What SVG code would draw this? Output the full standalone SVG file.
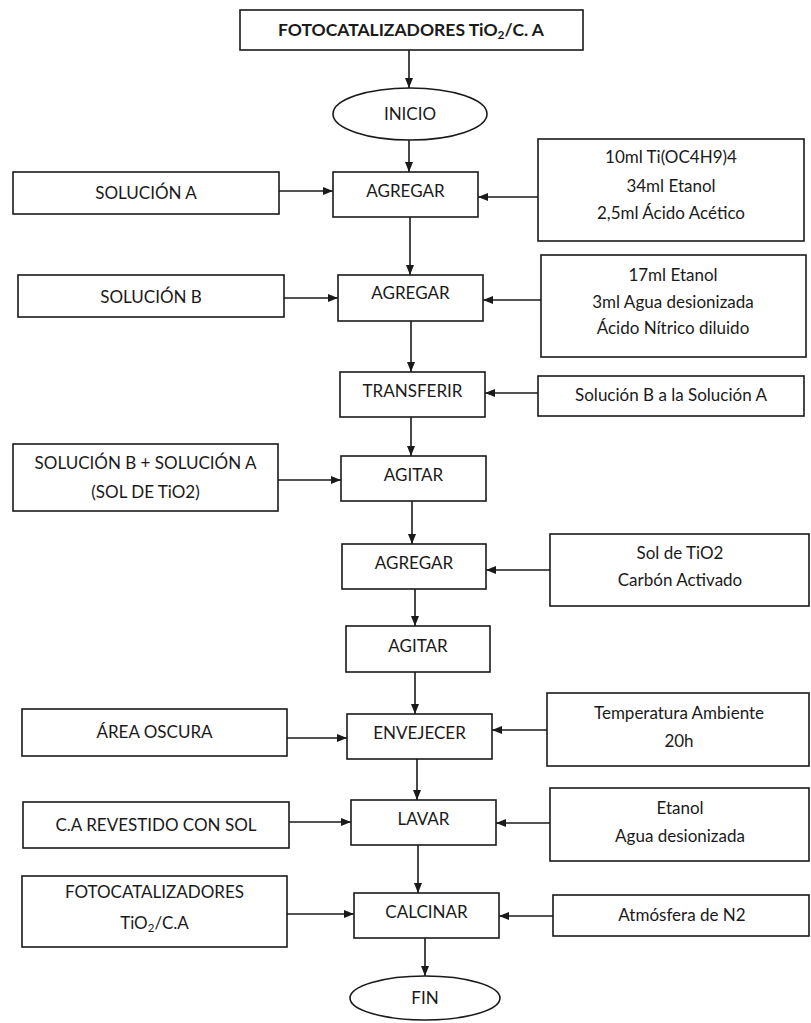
<svg xmlns="http://www.w3.org/2000/svg" width="811" height="1023" viewBox="0 0 811 1023">
<defs>
<style>
.node rect, .node ellipse { fill: #fff; stroke: #1a1a1a; stroke-width: 1.6; }
text { font-family: Lato, "Liberation Sans", sans-serif; font-size: 17px; fill: #1a1a1a; text-anchor: middle; }
.title { font-weight: bold; font-size: 17.5px; }
.conn line { stroke: #1a1a1a; stroke-width: 1.6; marker-end: url(#arrow); }
</style>
<marker id="arrow" viewBox="0 0 10 8" markerWidth="10" markerHeight="9" refX="10" refY="4" orient="auto" markerUnits="userSpaceOnUse">
<path d="M0,0 L10,4 L0,8 z" fill="#1a1a1a"/>
</marker>
</defs>
<rect width="811" height="1023" fill="#fff"/>

<g class="conn" id="connectors">
<line x1="409" y1="50" x2="409" y2="88"/>
<line x1="409" y1="140" x2="409" y2="172"/>
<line x1="279" y1="191" x2="333" y2="191"/>
<line x1="538" y1="197" x2="478" y2="197"/>
<line x1="410" y1="217" x2="410" y2="275"/>
<line x1="284" y1="298" x2="338" y2="298"/>
<line x1="541" y1="300" x2="483" y2="300"/>
<line x1="411" y1="321" x2="411" y2="372"/>
<line x1="538" y1="393" x2="485" y2="393"/>
<line x1="411" y1="417" x2="411" y2="456"/>
<line x1="278" y1="480" x2="341" y2="480"/>
<line x1="412" y1="501" x2="412" y2="544"/>
<line x1="550" y1="570" x2="486" y2="570"/>
<line x1="415" y1="589" x2="415" y2="626"/>
<line x1="415" y1="672" x2="415" y2="714"/>
<line x1="287" y1="738" x2="347" y2="738"/>
<line x1="547" y1="730" x2="492" y2="730"/>
<line x1="417" y1="759" x2="417" y2="800"/>
<line x1="289" y1="822" x2="351" y2="822"/>
<line x1="550" y1="823" x2="496" y2="823"/>
<line x1="418" y1="845" x2="418" y2="893"/>
<line x1="287" y1="914" x2="354" y2="914"/>
<line x1="553" y1="916" x2="499" y2="916"/>
<line x1="425" y1="938" x2="425" y2="976"/>
</g>

<g class="node" id="title">
<rect x="240" y="10" width="343" height="40"/>
<text class="title" x="411" y="36">FOTOCATALIZADORES TiO<tspan font-size="12" dy="3">2</tspan><tspan dy="-3">/C. A</tspan></text>
</g>
<g class="node" id="inicio">
<ellipse cx="410" cy="114" rx="77" ry="26"/>
<text x="410" y="120">INICIO</text>
</g>

<g class="node" id="agregar1">
<rect x="333" y="172" width="145" height="45"/>
<text x="405.5" y="197">AGREGAR</text>
</g>
<g class="node" id="solucionA">
<rect x="13" y="172" width="266" height="42"/>
<text x="146" y="199">SOLUCIÓN A</text>
</g>
<g class="node" id="reactivos1">
<rect x="538" y="139" width="266" height="102"/>
<text x="671" y="163">10ml Ti(OC4H9)4</text>
<text x="671" y="192">34ml Etanol</text>
<text x="671" y="219">2,5ml Ácido Acético</text>
</g>

<g class="node" id="agregar2">
<rect x="338" y="275" width="145" height="46"/>
<text x="410.5" y="299">AGREGAR</text>
</g>
<g class="node" id="solucionB">
<rect x="18" y="275" width="266" height="42"/>
<text x="151" y="303">SOLUCIÓN B</text>
</g>
<g class="node" id="reactivos2">
<rect x="541" y="255" width="265" height="102"/>
<text x="673" y="281">17ml Etanol</text>
<text x="673" y="308">3ml Agua desionizada</text>
<text x="673" y="334">Ácido Nítrico diluido</text>
</g>

<g class="node" id="transferir">
<rect x="340" y="372" width="145" height="45"/>
<text x="412.5" y="397">TRANSFERIR</text>
</g>
<g class="node" id="solBaA">
<rect x="538" y="376" width="266" height="40"/>
<text x="671" y="401">Solución B a la Solución A</text>
</g>

<g class="node" id="agitar1">
<rect x="341" y="456" width="145" height="45"/>
<text x="413.5" y="481">AGITAR</text>
</g>
<g class="node" id="solBmasA">
<rect x="13" y="444" width="265" height="67"/>
<text x="145.5" y="469">SOLUCIÓN B + SOLUCIÓN A</text>
<text x="145.5" y="498">(SOL DE TiO2)</text>
</g>

<g class="node" id="agregar3">
<rect x="342" y="544" width="144" height="45"/>
<text x="414" y="569">AGREGAR</text>
</g>
<g class="node" id="solTiO2">
<rect x="550" y="534" width="259" height="72"/>
<text x="680" y="559">Sol de TiO2</text>
<text x="680" y="586">Carbón Activado</text>
</g>

<g class="node" id="agitar2">
<rect x="346" y="626" width="144" height="46"/>
<text x="418" y="652">AGITAR</text>
</g>

<g class="node" id="envejecer">
<rect x="347" y="714" width="145" height="45"/>
<text x="419.5" y="739">ENVEJECER</text>
</g>
<g class="node" id="areaOscura">
<rect x="22" y="709" width="265" height="47"/>
<text x="154.5" y="738">ÁREA OSCURA</text>
</g>
<g class="node" id="temperatura">
<rect x="547" y="693" width="262" height="73"/>
<text x="679" y="719">Temperatura Ambiente</text>
<text x="679" y="747">20h</text>
</g>

<g class="node" id="lavar">
<rect x="351" y="800" width="145" height="45"/>
<text x="423.5" y="825">LAVAR</text>
</g>
<g class="node" id="caRevestido">
<rect x="23" y="802" width="266" height="46"/>
<text x="156" y="831">C.A REVESTIDO CON SOL</text>
</g>
<g class="node" id="etanolAgua">
<rect x="550" y="788" width="259" height="73"/>
<text x="680" y="814">Etanol</text>
<text x="680" y="842">Agua desionizada</text>
</g>

<g class="node" id="calcinar">
<rect x="354" y="893" width="145" height="45"/>
<text x="426.5" y="918">CALCINAR</text>
</g>
<g class="node" id="fotocatalizadores">
<rect x="22" y="876" width="265" height="71"/>
<text x="154.5" y="898">FOTOCATALIZADORES</text>
<text x="154.5" y="929">TiO<tspan font-size="11.5" dy="3">2</tspan><tspan dy="-3">/C.A</tspan></text>
</g>
<g class="node" id="atmosfera">
<rect x="553" y="895" width="256" height="41"/>
<text x="682" y="921">Atmósfera de N2</text>
</g>

<g class="node" id="fin">
<ellipse cx="425" cy="998" rx="75" ry="22"/>
<text x="425" y="1004">FIN</text>
</g>
</svg>
